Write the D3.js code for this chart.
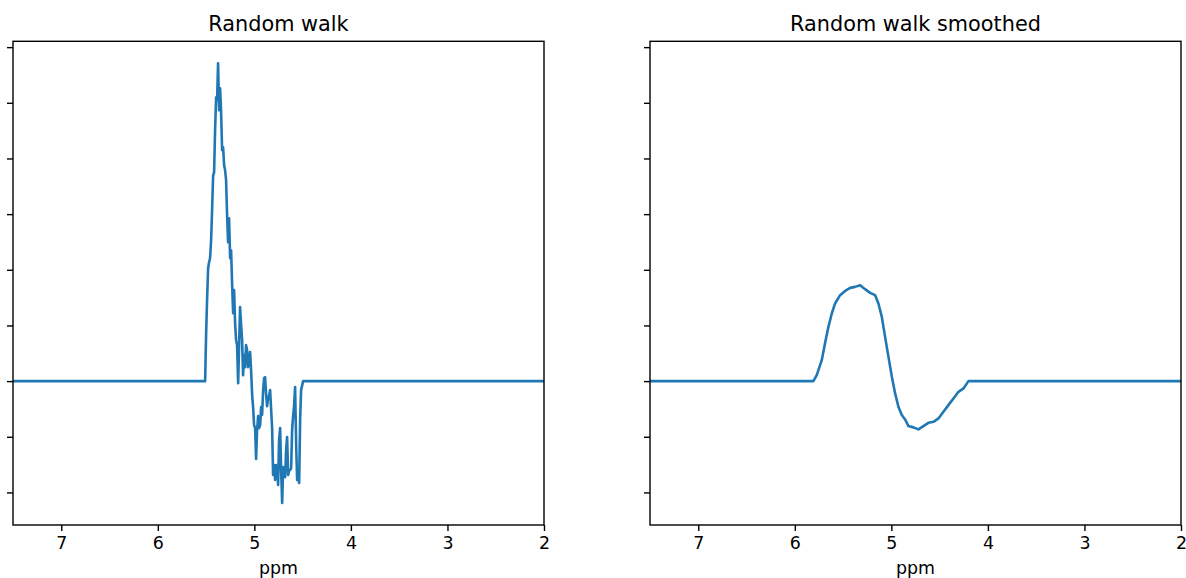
<!DOCTYPE html>
<html>
<head>
<meta charset="utf-8">
<script src="https://cdn.jsdelivr.net/npm/d3@7"></script>
<style>
  body { margin: 0; background: #fff; }
  text { font-family: "DejaVu Sans", sans-serif; fill: #000; }
  .domain, .tick line { stroke: #000; stroke-width: 1.4; }
</style>
</head>
<body>
<svg id="chart" width="1186" height="578"></svg>
<script>
// raw random walk (ppm, intensity)
const walkPpm = [7.5, 5.510, 5.500, 5.490, 5.479, 5.469, 5.459, 5.448, 5.438, 5.427, 5.417, 5.407, 5.396, 5.386,
    5.376, 5.365, 5.355, 5.345, 5.334, 5.324, 5.313, 5.303, 5.293, 5.282, 5.272, 5.262, 5.251, 5.241, 5.231,
    5.220, 5.210, 5.199, 5.189, 5.179, 5.168, 5.148, 5.137, 5.127, 5.117, 5.106, 5.096, 5.086, 5.075, 5.065,
    5.054, 5.044, 5.034, 5.023, 5.013, 5.003, 4.992, 4.982, 4.972, 4.961, 4.951, 4.940, 4.930, 4.920, 4.909,
    4.899, 4.889, 4.878, 4.868, 4.858, 4.847, 4.837, 4.826, 4.816, 4.806, 4.795, 4.785, 4.775, 4.764, 4.754,
    4.744, 4.733, 4.723, 4.712, 4.702, 4.692, 4.681, 4.671, 4.661, 4.650, 4.640, 4.630, 4.619, 4.609, 4.598,
    4.588, 4.578, 4.567, 4.557, 4.547, 4.536, 4.526, 4.516, 4.495, 2.0];
const walkVal = [0, 0, 0.826, 1.454, 2.029, 2.136, 2.208, 2.531, 3.070, 3.698, 3.752, 4.506, 5.099, 5.045,
    5.709, 4.865, 5.260, 4.865, 4.147, 4.201, 3.878, 3.788, 3.609, 2.962, 2.495, 2.926, 2.208, 2.352, 1.777,
    1.221, 1.634, 1.005, 0.736, 0.646, -0.036, 1.329, 1.005, 0.736, 0.108, 0.467, 0.251, 0.646, 0.557, 0.251,
    0.377, 0.521, 0.197, -0.251, -0.467, -0.790, -0.844, -1.400, -0.880, -0.628, -0.844, -0.790, -0.467, -0.610, -0.162,
    0.054, 0.072, -0.251, -0.449, -0.305, -0.251, -0.162, -0.521, -0.844, -1.688, -1.508, -1.777, -1.508, -1.562, -1.867,
    -1.059, -0.844, -1.598, -2.190, -1.544, -1.688, -1.724, -1.239, -1.005, -1.688, -1.598, -1.598, -1.562, -0.880, -0.610,
    -0.431, -0.108, -1.149, -1.777, -1.741, -1.831, -0.700, -0.162, 0, 0];

// smoothed walk
const smoothPpm = [7.5, 5.808, 5.773, 5.721, 5.687, 5.652, 5.617, 5.583, 5.531, 5.479, 5.427, 5.376, 5.324,
    5.272, 5.220, 5.168, 5.134, 5.099, 5.065, 5.030, 4.995, 4.961, 4.927, 4.892, 4.858, 4.823, 4.771, 4.720,
    4.668, 4.616, 4.564, 4.512, 4.461, 4.409, 4.357, 4.305, 4.253, 4.202, 2.0];
const smoothVal = [0, 0, 0.108, 0.377, 0.682, 0.975, 1.215, 1.395, 1.544, 1.621, 1.675, 1.693, 1.724,
    1.652, 1.585, 1.544, 1.395, 1.154, 0.795, 0.436, 0.077, -0.221, -0.461, -0.610, -0.688, -0.808, -0.831, -0.867,
    -0.808, -0.749, -0.731, -0.670, -0.551, -0.431, -0.311, -0.192, -0.131, 0, 0];

const xTicks = [7, 6, 5, 4, 3, 2];
const yTicks = [-2, -1, 0, 1, 2, 3, 4, 5, 6];
const titles = ['Random walk', 'Random walk smoothed'];

const panelW = 531;
const plotTop = 41.3, plotBottom = 525;
const panelLeft = [13, 650];

const svg = d3.select('#chart');

const x = d3.scaleLinear().domain([7.5, 2]).range([0, panelW]);
const y = d3.scaleLinear().domain([-2.585, 6.105]).range([plotBottom, plotTop]);

const line = d3.line()
    .x(d => x(d[0]))
    .y(d => y(d[1]));

const series = [
    d3.zip(walkPpm, walkVal),
    d3.zip(smoothPpm, smoothVal)
];

series.forEach((pts, i) => {
    const g = svg.append('g')
        .attr('transform', `translate(${panelLeft[i]},0)`);

    g.append('defs').append('clipPath')
        .attr('id', 'clip' + i)
        .append('rect')
        .attr('x', 0).attr('y', plotTop)
        .attr('width', panelW).attr('height', plotBottom - plotTop);

    g.append('path')
        .datum(pts)
        .attr('clip-path', `url(#clip${i})`)
        .attr('fill', 'none')
        .attr('stroke', '#1f77b4')
        .attr('stroke-width', 2.6)
        .attr('stroke-linejoin', 'round')
        .attr('stroke-linecap', 'square')
        .attr('d', line);

    // frame
    g.append('rect')
        .attr('x', 0).attr('y', plotTop)
        .attr('width', panelW).attr('height', plotBottom - plotTop)
        .attr('fill', 'none')
        .attr('stroke', '#000')
        .attr('stroke-width', 1.4);

    const xAxis = g.append('g')
        .attr('transform', `translate(0,${plotBottom})`)
        .call(d3.axisBottom(x).tickValues(xTicks).tickFormat(d3.format('d')).tickSize(6).tickPadding(6));
    xAxis.select('.domain').remove();
    xAxis.selectAll('.tick text')
        .style('font-family', '"DejaVu Sans", sans-serif')
        .style('font-size', '17.4px');

    const yAxis = g.append('g')
        .call(d3.axisLeft(y).tickValues(yTicks).tickFormat('').tickSize(6));
    yAxis.select('.domain').remove();

    // title
    g.append('text')
        .attr('x', panelW / 2)
        .attr('y', 31)
        .attr('text-anchor', 'middle')
        .style('font-size', '20.8px')
        .text(titles[i]);

    // x axis label
    g.append('text')
        .attr('x', panelW / 2)
        .attr('y', 574)
        .attr('text-anchor', 'middle')
        .style('font-size', '17.4px')
        .text('ppm');
});
</script>
</body>
</html>
